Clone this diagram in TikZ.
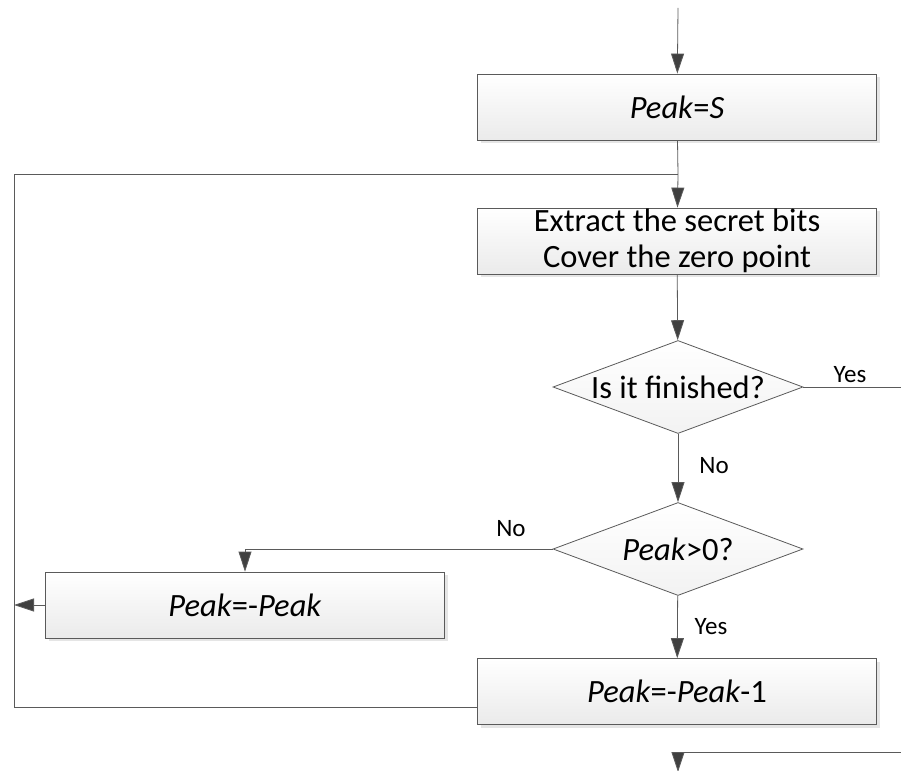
\documentclass[tikz,border=0pt]{standalone}
\usepackage{fontspec}
\setmainfont{Carlito}
\usetikzlibrary{shapes.geometric,arrows.meta,shadows,calc}
\definecolor{linegray}{HTML}{5A5A5A}
\definecolor{tipgray}{HTML}{404040}
\begin{document}
\begin{tikzpicture}[x=1pt,y=-1pt,
  bigtext/.style={font=\fontsize{32.5}{36}\selectfont},
  proc/.style={rectangle, draw=linegray, line width=0.8pt,
    top color=white, bottom color=gray!16,
    minimum width=399pt, minimum height=66pt, inner sep=0pt,
    drop shadow={shadow xshift=3pt, shadow yshift=-3pt, fill=gray!40, opacity=0.5},
    bigtext},
  decide/.style={diamond, draw=linegray, line width=0.8pt,
    top color=white, bottom color=gray!10,
    minimum width=250pt, minimum height=93pt, inner sep=0pt, aspect=2.69},
  conn/.style={draw=linegray, line width=0.8pt},
  arr/.style={conn, -{Triangle[length=20pt,width=13pt,fill=tipgray]}},
  lbl/.style={font=\fontsize{25}{28}\selectfont, text=black}
]
\useasboundingbox (0,0) rectangle (901,770);

% process boxes and decisions
\node[proc] (b1) at (677,107) {\textit{Peak}=\textit{S}};
\node[proc, align=center] (b2) at (677,241) {Extract the secret bits\\Cover the zero point};
\node[decide, label={[bigtext]center:Is it finished?}] (d1) at (678,387) {};
\node[decide, label={[bigtext]center:\textit{Peak}>0?}] (d2) at (678,549) {};
\node[proc] (b3) at (245,605) {\textit{Peak}=-\textit{Peak}};
\node[proc] (b4) at (677,691.5) {\textit{Peak}=-\textit{Peak}-1};

% free ends of the flow
\coordinate (top) at (678,8);
\coordinate (j) at (678,174);
\coordinate (lt) at (14,174);
\coordinate (yesend) at (901,387);
\coordinate (b4in) at ($(b4.west)+(0,15.5)$);
\coordinate (br) at (901,752);
\coordinate (bend) at (678,772);

% connectors
\draw[arr] (top) -- (b1);
\draw[conn] (b1) -- (j);
\draw[arr] (j) -- (b2);
\draw[arr] (b2) -- (d1);
\draw[conn] (d1.east) -- (yesend);
\node[lbl] at (850,375) {Yes};
\draw[arr] (d1) -- (d2);
\node[lbl] at (714,466) {No};
\draw[arr] (d2.west) -| (b3.north);
\node[lbl] at (511,529) {No};
\draw[arr] (d2) -- (b4);
\node[lbl] at (711,627) {Yes};
\draw[conn] (b4in) -| (lt) -- (j);
\draw[arr] (b3.west) -- (b3.west -| lt);
\draw[arr] (br) -| (bend);
\end{tikzpicture}
\end{document}
